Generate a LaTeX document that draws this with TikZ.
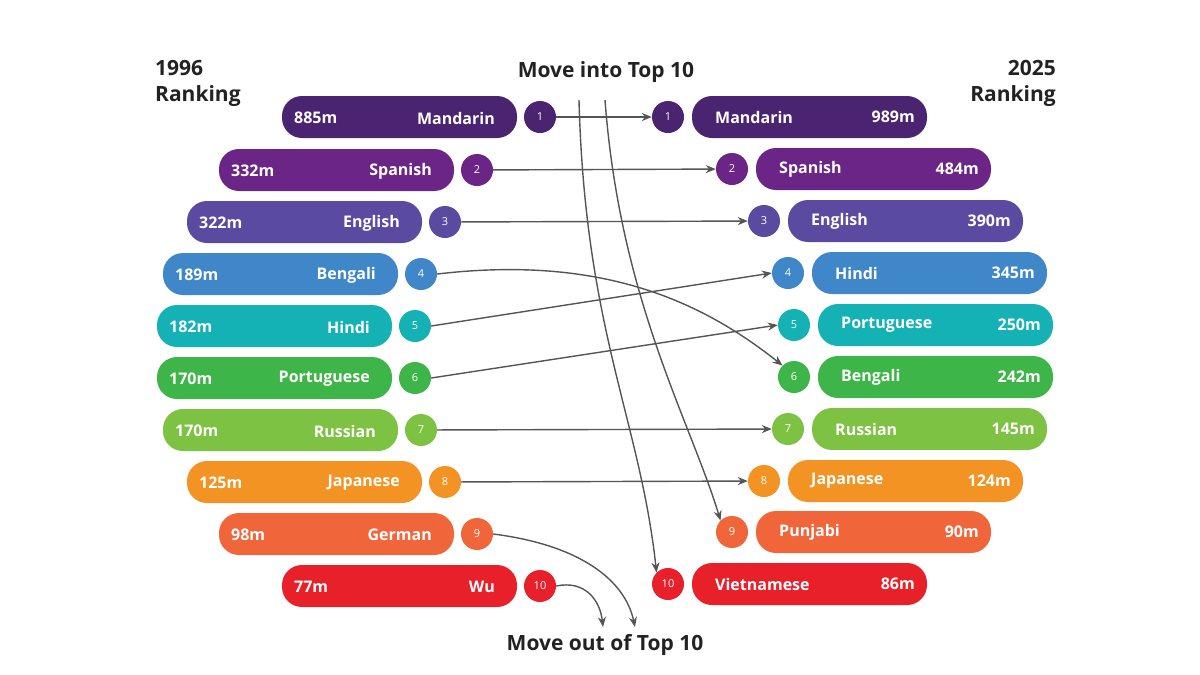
\documentclass[tikz,border=0pt]{standalone}
\usepackage{fontspec}
\setmainfont{Open Sans}
\usetikzlibrary{arrows.meta}
\definecolor{c1}{HTML}{4A2470}\definecolor{c2}{HTML}{6B2586}\definecolor{c3}{HTML}{5B4BA0}
\definecolor{c4}{HTML}{3F87C8}\definecolor{c5}{HTML}{15B2B5}\definecolor{c6}{HTML}{3EB548}
\definecolor{c7}{HTML}{7DC242}\definecolor{c8}{HTML}{F39323}\definecolor{c9}{HTML}{F0663A}
\definecolor{c10}{HTML}{E8202A}\definecolor{ac}{HTML}{555555}\definecolor{tc}{HTML}{222222}
\begin{document}
\begin{tikzpicture}[x=1pt,y=-1pt,
 bar/.style={rectangle,rounded corners=20pt,minimum width=235pt,minimum height=42pt,inner sep=0pt},
 circ/.style={circle,minimum size=32pt,inner sep=0pt,text=white,font=\fontsize{11}{12}\selectfont},
 btxt/.style={text=white,font=\fontsize{16}{18}\selectfont\bfseries,inner sep=0pt},
 head/.style={text=tc,font=\fontsize{21}{26}\selectfont\bfseries,inner sep=0pt},
 arr/.style={draw=ac,line width=1.4pt,-{Stealth[length=10pt,width=8pt]}}]
\useasboundingbox (0,0) rectangle (1200,675);
\foreach \i/\y/\lx/\lang/\val in {1/117/517/Mandarin/885m,2/170/454/Spanish/332m,3/222/422/English/322m,4/274/398/Bengali/189m,5/326/392/Hindi/182m,6/378/392/Portuguese/170m,7/430/398/Russian/170m,8/482/422/Japanese/125m,9/534/454/German/98m,10/586/517/Wu/77m}{
 \node[bar,fill=c\i] (L\i) at (\lx-117.5,\y) {};
 \node[circ,fill=c\i] (LC\i) at (\lx+23,\y) {\i};
 \node[btxt,anchor=west] (LV\i) at (\lx-223,\y+1) {\val};
 \node[btxt,anchor=east] (LN\i) at (\lx-22,\y+1) {\lang};
}
\foreach \i/\y/\rx/\lang/\val in {1/117/668/Mandarin/989m,2/169/732/Spanish/484m,3/221/764/English/390m,4/273/788/Hindi/345m,5/325/794/Portuguese/250m,6/377/794/Bengali/242m,7/429/788/Russian/145m,8/481/764/Japanese/124m,9/532/732/Punjabi/90m,10/584/668/Vietnamese/86m}{
 \node[circ,fill=c\i] (RC\i) at (\rx,\y) {\i};
 \node[bar,fill=c\i] (R\i) at (\rx+141.5,\y) {};
 \node[btxt,anchor=west] (RN\i) at (\rx+47,\y) {\lang};
 \node[btxt,anchor=east] (RV\i) at (\rx+247,\y) {\val};
}
\node[head,align=left,anchor=north west] (h1) at (155,60) {1996\\Ranking};
\node[head,align=right,anchor=north east] (h2) at (1056,60) {2025\\Ranking};
\node[head] (hin) at (606,72) {Move into Top 10};
\node[head] (hout) at (605,645) {Move out of Top 10};
\foreach \i in {1,2,3,7,8}{\draw[arr] (LC\i) -- (RC\i);}
\draw[arr] (LC4.east) .. controls (600,255) and (700,300) .. (RC6.north west);
\draw[arr] (LC5.east) -- (RC4.west);
\draw[arr] (LC6.east) -- (RC5.west);
\coordinate (i1) at (579,100);
\coordinate (i2) at (605,100);
\draw[arr] (i1) .. controls (585,330) and (640,420) .. (RC10.north west);
\draw[arr] (i2) .. controls (620,300) and (690,420) .. (RC9.north west);
\coordinate (o1) at (603,627);
\coordinate (o2) at (635,627);
\draw[arr] (LC9.east) .. controls (580,545) and (625,580) .. (o2);
\draw[arr] (LC10.east) .. controls (585,580) and (600,600) .. (o1);
\end{tikzpicture}
\end{document}
